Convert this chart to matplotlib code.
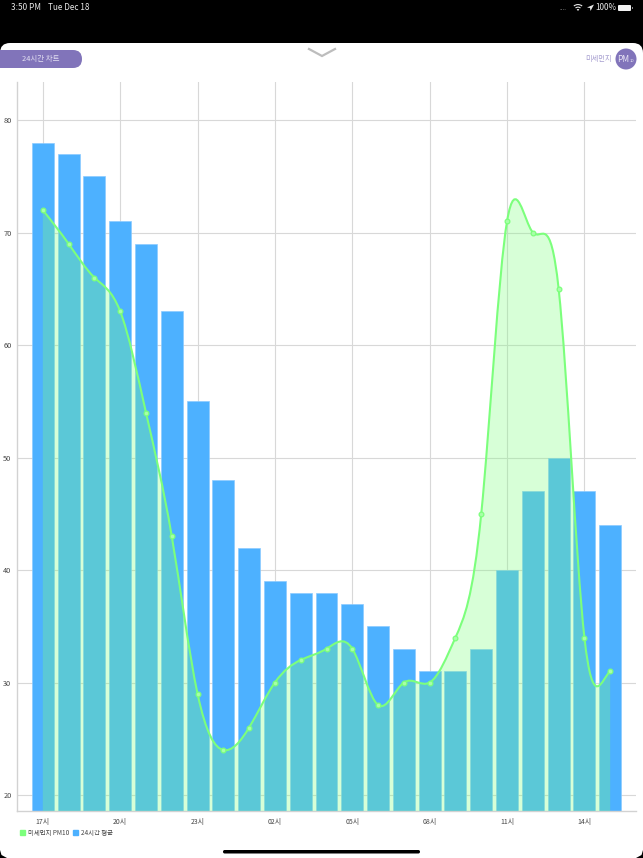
#!/usr/bin/env python

import matplotlib
matplotlib.use('Agg')
import matplotlib.pyplot as plt
from matplotlib.patches import Circle, FancyBboxPatch, PathPatch, Patch, Rectangle, Wedge, Polygon
from matplotlib.path import Path
import numpy as np

plt.rcParams['font.family'] = ['Noto Sans CJK KR', 'DejaVu Sans']

# Values
hours = ["17시", "18시", "19시", "20시", "21시", "22시", "23시", "00시", "01시", "02시", "03시", "04시",
         "05시", "06시", "07시", "08시", "09시", "10시", "11시", "12시", "13시", "14시", "15시"]
pm10 = [72, 69, 66, 63, 54, 43, 29, 24, 26, 30, 32, 33, 33, 28, 30, 30, 34, 45, 71, 70, 65, 34, 31]
avg_24h = [78, 77, 75, 71, 69, 63, 55, 48, 42, 39, 38, 38, 37, 35, 33, 31, 31, 33, 40, 47, 50, 47, 44]
y_ticks = [20, 30, 40, 50, 60, 70, 80]

W, H = 643, 858
PLOT_L, PLOT_R, PLOT_T, PLOT_B = 17, 636, 82, 811
GREEN = '#7CFF7C'
BLUE = '#4DB1FF'
PURPLE = '#8174BA'
END_SLOPE = 2.0  # curve flattens into the last point


def spline_path(x, y, base):
    # cubic spline through the points, written as bezier segments
    n = len(y)
    A = np.zeros((n, n))
    b = np.zeros(n)
    A[0, 0], A[0, 1] = 2, 1
    b[0] = 3 * (y[1] - y[0])
    A[-1, -1] = 1
    b[-1] = END_SLOPE
    for i in range(1, n - 1):
        A[i, i - 1], A[i, i], A[i, i + 1] = 1, 4, 1
        b[i] = 3 * (y[i + 1] - y[i - 1])
    m = np.linalg.solve(A, b)
    verts = [(x[0], y[0])]
    codes = [Path.MOVETO]
    for i in range(n - 1):
        verts += [(x[i] + 1 / 3, y[i] + m[i] / 3), (x[i + 1] - 1 / 3, y[i + 1] - m[i + 1] / 3), (x[i + 1], y[i + 1])]
        codes += [Path.CURVE4] * 3
    line = Path(verts, codes)
    fill = Path(verts + [(x[-1], base), (x[0], base), (x[0], y[0])],
                codes + [Path.LINETO, Path.LINETO, Path.LINETO])
    return line, fill


fig = plt.figure(figsize=(W / 100, H / 100), dpi=100, facecolor='black')

# screen chrome, in pixel coordinates
ui = fig.add_axes([0, 0, 1, 1], zorder=0)
ui.set_xlim(0, W)
ui.set_ylim(H, 0)
ui.axis('off')
ui.add_patch(FancyBboxPatch((0, 43), W, H, boxstyle='round,pad=0,rounding_size=10', fc='white', ec='none'))
ui.add_patch(Polygon([(0, 858), (0, 850), (1.5, 855), (7, 858)], fc='black', ec='none'))
ui.add_patch(Polygon([(643, 858), (643, 850), (641.5, 855), (636, 858)], fc='black', ec='none'))
ui.add_patch(FancyBboxPatch((-20, 50), 102, 18, boxstyle='round,pad=0,rounding_size=9', fc=PURPLE, ec='none'))
ui.text(41, 59, "24시간 차트", color='#E4E0F2', fontsize=5.4, ha='center', va='center')
ui.plot([309, 322, 335], [49, 56, 49], color='#BDBDBD', lw=1.6, solid_joinstyle='miter')
ui.text(598, 59, "미세먼지", color='#A79FD0', fontsize=5.2, ha='center', va='center')
ui.add_patch(Circle((626, 59), 10.5, fc=PURPLE, ec='none'))
ui.text(623.5, 59, "PM", color='#E8E5F4', fontsize=6, ha='center', va='center')
ui.text(632.5, 61.5, "10", color='#E8E5F4', fontsize=3, ha='center', va='center')
ui.add_patch(FancyBboxPatch((223, 850), 197, 3.5, boxstyle='round,pad=0,rounding_size=1.7', fc='black', ec='none'))

# status bar
ui.text(11, 7.5, "3:50 PM", color='#E8E8E8', fontsize=5.9, va='center')
ui.text(48, 7.5, "Tue Dec 18", color='#E8E8E8', fontsize=5.9, va='center')
ui.text(560, 8, "....", color='#777777', fontsize=4.5, va='center')
ui.add_patch(Wedge((578, 11), 7, 230, 310, width=1.1, fc='#E8E8E8', ec='none'))
ui.add_patch(Wedge((578, 11), 4.4, 230, 310, width=1.1, fc='#E8E8E8', ec='none'))
ui.add_patch(Wedge((578, 11), 2, 230, 310, fc='#E8E8E8', ec='none'))
ui.add_patch(Polygon([(587, 7.5), (594, 4.5), (590.5, 11), (590, 8)], fc='#E8E8E8', ec='none'))
ui.text(595, 7.5, "100%", color='#E8E8E8', fontsize=5.9, va='center')
ui.add_patch(FancyBboxPatch((618, 5), 13, 6, boxstyle='round,pad=0,rounding_size=1', fc='#F2F2F2', ec='none'))
ui.add_patch(Rectangle((632, 7), 1, 2.2, fc='#888888', ec='none'))

# chart
ax = fig.add_axes([PLOT_L / W, 1 - PLOT_B / H, (PLOT_R - PLOT_L) / W, (PLOT_B - PLOT_T) / H], zorder=1)
ax.patch.set_alpha(0)
x = np.arange(len(hours))
y_per_px = 10 / 112.5
ax.set_xlim(-1.0, 23.0)
ax.set_ylim(20 - 16 * y_per_px, 80 + 38 * y_per_px)

ax.grid(True, color='#D8D8D8', lw=0.8)
ax.set_axisbelow(True)
ax.bar(x, avg_24h, width=0.85, color=BLUE, edgecolor='#8CCBFF', linewidth=0.5, zorder=2)

base = ax.get_ylim()[0]
line_path, fill_path = spline_path(x.astype(float), np.array(pm10, dtype=float), base)
ax.add_patch(PathPatch(fill_path, fc=GREEN, ec='none', alpha=0.3, zorder=3))
ax.add_patch(PathPatch(line_path, fc='none', ec=GREEN, lw=1.5, zorder=4))
ax.plot(x, pm10, ls='none', marker='o', ms=3.4, mfc='#A8FFA8', mec=GREEN, mew=0.9, zorder=5)

ax.set_xticks(x[::3])
ax.set_xticklabels(hours[::3])
ax.set_yticks(y_ticks)
ax.tick_params(axis='x', length=0, labelsize=5, labelcolor='#444444', pad=5)
ax.tick_params(axis='y', length=0, labelsize=5.3, labelcolor='#444444', pad=4)
for s in ['top', 'right']:
    ax.spines[s].set_visible(False)
for s in ['left', 'bottom']:
    ax.spines[s].set_color('#D2D2D2')
    ax.spines[s].set_linewidth(1.0)

handles = [Patch(color=GREEN, label="미세먼지 PM10"), Patch(color=BLUE, label="24시간 평균")]
fig.legend(handles=handles, loc='center left', bbox_to_anchor=(20 / W, 1 - 832.5 / H), ncol=2, frameon=False,
           fontsize=4.6, labelcolor='#444444', handlelength=0.8, handleheight=0.8, handletextpad=0.47,
           columnspacing=0.62, borderpad=0, borderaxespad=0)

plt.savefig("out.png", dpi=100, facecolor='black')
